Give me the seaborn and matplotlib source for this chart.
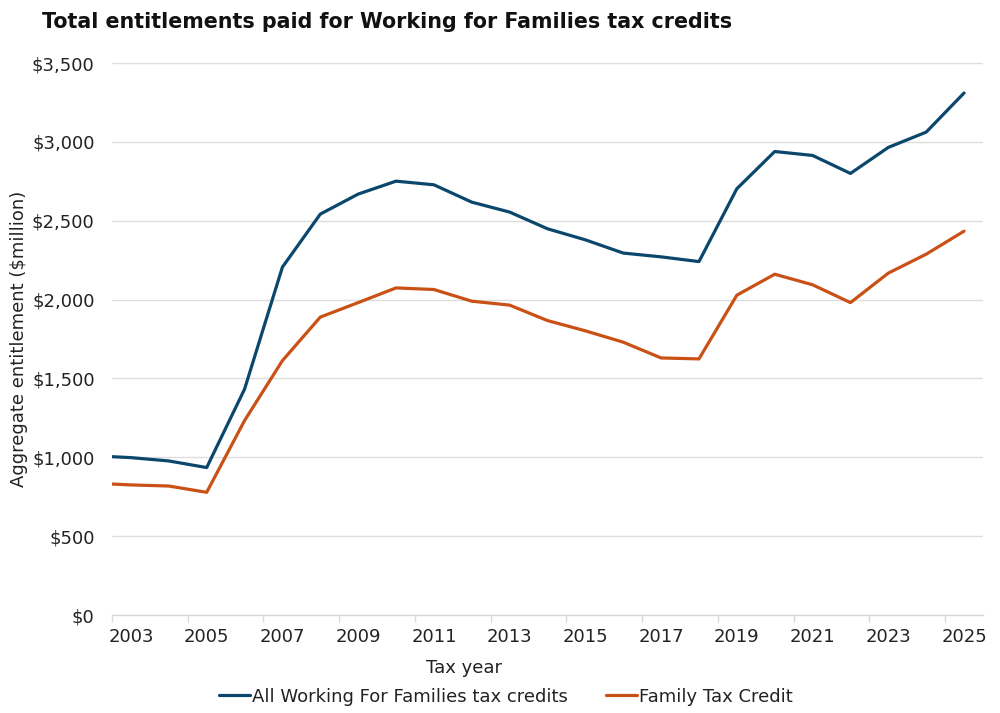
import matplotlib
matplotlib.use("Agg")
import matplotlib.pyplot as plt
import matplotlib.ticker as mticker
import pandas as pd
import seaborn as sns

# tax years; values are plotted mid-year on a continuous year axis
years = list(range(2002, 2026))
all_wff = [1010, 998, 977, 935, 1432, 2206, 2542, 2669, 2751, 2728, 2618, 2555,
           2449, 2379, 2295, 2271, 2241, 2703, 2939, 2914, 2800, 2965, 3062, 3310]
ftc = [836, 825, 818, 778, 1233, 1613, 1889, 1981, 2074, 2064, 1990, 1965,
       1867, 1802, 1730, 1630, 1624, 2028, 2161, 2094, 1981, 2168, 2288, 2434]
series_names = ["All Working For Families tax credits", "Family Tax Credit"]
colours = ["#0B476D", "#CA5116"]
tick_years = list(range(2003, 2026, 2))

df = pd.DataFrame({
    "year": [y + 0.5 for y in years] * 2,
    "value": all_wff + ftc,
    "series": [series_names[0]] * len(years) + [series_names[1]] * len(years),
})

sns.set_theme(style="white")
plt.rcParams["font.family"] = ["DejaVu Sans"]

fig = plt.figure(figsize=(10, 7.13), dpi=100)
ax = fig.add_axes([0.112, 0.1374, 0.871, 0.7742])

sns.lineplot(data=df, x="year", y="value", hue="series", palette=colours,
             linewidth=2.3, ax=ax, legend=False)

ax.set_xlim(2003, 2026)
ax.set_ylim(0, 3500)
# tick marks at the start of the year, labels in the middle of it
ax.set_xticks(tick_years)
ax.set_xticklabels([])
ax.set_xticks([y + 0.5 for y in tick_years], minor=True)
ax.set_xticklabels([str(y) for y in tick_years], minor=True)
ax.yaxis.set_major_locator(mticker.MultipleLocator(500))
ax.yaxis.set_major_formatter(mticker.FuncFormatter(lambda v, p: f"${v:,.0f}"))

ax.grid(axis="y", color="#dddddd", linewidth=1)
ax.grid(axis="x", visible=False)
for s in ["top", "right", "left"]:
    ax.spines[s].set_visible(False)
ax.spines["bottom"].set_color("#d9d9d9")
ax.spines["bottom"].set_linewidth(1)

ax.tick_params(axis="x", which="major", bottom=True, length=5, color="#d9d9d9", width=1)
ax.tick_params(axis="x", which="minor", bottom=True, length=0, pad=9,
               labelsize=13, labelcolor="#222222")
ax.tick_params(axis="y", left=False, pad=6.5, labelsize=13, labelcolor="#222222")

ax.set_xlabel("Tax year", fontsize=13, color="#222222")
ax.xaxis.set_label_coords(0.404, -0.08)
ax.set_ylabel("Aggregate entitlement ($million)", fontsize=13, color="#222222")
ax.yaxis.set_label_coords(-0.097, 0.5)

fig.text(0.042, 0.969, "Total entitlements paid for Working for Families tax credits",
         fontsize=14.9, fontweight="bold", color="#111111", va="center", ha="left")

handles = [plt.Line2D([], [], color=c, linewidth=2.3) for c in colours]
fig.legend(handles, series_names, loc="center", bbox_to_anchor=(0.506, 0.023),
           ncol=2, frameon=False, fontsize=13, handlelength=1.7,
           handletextpad=0.15, columnspacing=2.1, labelcolor="#222222")

fig.savefig("out.png", dpi=100)
